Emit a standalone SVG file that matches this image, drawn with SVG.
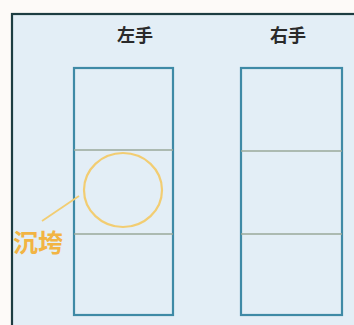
<svg xmlns="http://www.w3.org/2000/svg" width="354" height="325" viewBox="0 0 354 325">
<style>
.box{fill:none;stroke:#3f8aa6;stroke-width:2.2}
.div{stroke:#9aa89a;stroke-width:1.6}
.title{font-family:"Noto Sans CJK SC","Noto Sans CJK JP",sans-serif;font-size:18px;font-weight:bold;fill:#2a2a2a;text-anchor:middle}
.label{font-family:"Noto Sans CJK SC","Noto Sans CJK JP",sans-serif;font-size:25px;font-weight:bold;fill:#f2b443}
</style>
<rect x="0" y="0" width="354" height="325" fill="#fdfaf8"/>
<rect x="12" y="14" width="350" height="320" fill="#e3eef6" stroke="#1d3d42" stroke-width="2.2"/>
<g id="left">
<text class="title" x="135" y="42">左手</text>
<rect class="box" x="74" y="68" width="99" height="247"/>
<line class="div" x1="74" y1="150" x2="173" y2="150"/>
<line class="div" x1="74" y1="234" x2="173" y2="234"/>
</g>
<g id="right">
<text class="title" x="288" y="42">右手</text>
<rect class="box" x="241" y="68" width="101" height="247"/>
<line class="div" x1="241" y1="151" x2="342" y2="151"/>
<line class="div" x1="241" y1="234" x2="342" y2="234"/>
</g>
<g id="callout">
<ellipse cx="123" cy="190" rx="39" ry="37" fill="none" stroke="#f2cd72" stroke-width="2.2"/>
<text class="label" x="13" y="252">沉垮</text>
</g>
<g id="connectors">
<line x1="79" y1="196" x2="42" y2="221" stroke="#f2cd72" stroke-width="1.8"/>
</g>
</svg>
